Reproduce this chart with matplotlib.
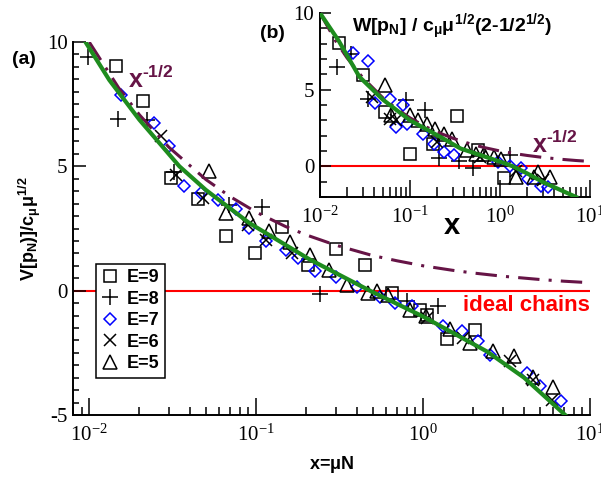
import numpy as np
import matplotlib
matplotlib.use("Agg")
import matplotlib.pyplot as plt
from matplotlib.ticker import LogLocator, MultipleLocator, NullFormatter

plt.rcParams['font.family'] = 'serif'
plt.rcParams['font.serif'] = ['Liberation Serif', 'DejaVu Serif']
plt.rcParams['mathtext.fontset'] = 'custom'
plt.rcParams['mathtext.rm'] = 'Liberation Sans:bold'
plt.rcParams['mathtext.it'] = 'Liberation Sans:bold'
plt.rcParams['mathtext.bf'] = 'Liberation Sans:bold'
plt.rcParams['mathtext.sf'] = 'Liberation Sans:bold'
plt.rcParams['axes.unicode_minus'] = False

# ---- main panel (a): scaled data V[p_N] vs x = mu N ----
e9_x = [0.0145, 0.0211, 0.031, 0.045, 0.066, 0.098, 0.143, 0.204, 0.30, 0.449, 0.65, 0.96, 1.05, 1.39, 2.05]
e9_y = [9.04, 7.64, 4.54, 3.69, 2.21, 1.52, 2.58, 1.04, 1.67, 1.04, -0.1, -0.76, -0.96, -1.95, -1.57]

e8_x = [0.0098, 0.0148, 0.0221, 0.032, 0.069, 0.108, 0.24, 0.80, 1.23]
e8_y = [9.41, 6.9, 6.87, 4.78, 3.45, 3.37, -0.14, -0.43, -0.62]

e7_x = [0.0155, 0.0246, 0.0302, 0.037, 0.047, 0.059, 0.076, 0.091, 0.114, 0.152, 0.178, 0.224,
        0.30, 0.40, 0.55, 0.68, 0.855, 1.32, 1.71, 2.14, 2.52, 4.2, 5.05, 6.66]
e7_y = [7.87, 6.76, 5.8, 4.22, 3.93, 3.65, 3.28, 2.53, 2.0, 1.65, 1.32, 0.78,
        0.55, 0.15, -0.25, -0.48, -0.6, -1.43, -1.63, -2.04, -2.57, -3.3, -3.84, -4.42]

e6_x = [0.027, 0.033, 0.048, 0.089, 0.115, 0.163, 1.06, 1.74, 3.3, 4.57, 5.9]
e6_y = [6.22, 4.66, 3.73, 2.65, 2.05, 1.5, -1.09, -1.9, -2.84, -3.6, -4.38]

e5_x = [0.052, 0.066, 0.091, 0.12, 0.159, 0.21, 0.275, 0.348, 0.47, 0.53, 0.62, 0.83, 1.04,
        1.45, 1.91, 2.64, 3.5, 4.57, 6.04]
e5_y = [4.83, 3.13, 2.93, 2.38, 1.95, 1.45, 0.85, 0.24, -0.09, -0.03, -0.16, -0.76, -1.03,
        -1.55, -2.1, -2.42, -2.61, -3.47, -3.86]

# power law x^-1/2 (dash-dot) and fitted curve (green)
pow_x = [0.01, 0.015, 0.02, 0.03, 0.05, 0.07, 0.1, 0.15, 0.2, 0.3, 0.5, 0.7, 1.0, 1.5, 2.0, 3.0, 5.0, 7.0, 10.0]
pow_y = [10.0, 8.16, 7.07, 5.77, 4.47, 3.78, 3.16, 2.58, 2.24, 1.83, 1.41, 1.2, 1.0, 0.82, 0.71, 0.58, 0.45, 0.38, 0.32]

fit_x = [0.0095, 0.0132, 0.02, 0.0347, 0.05, 0.091, 0.21, 0.48, 1.0, 2.42, 4.03, 7.1]
fit_y = [10.0, 8.47, 6.87, 5.0, 4.05, 2.72, 1.25, 0.0, -1.04, -2.45, -3.5, -5.0]

# ---- inset (b): W[p_N] scaled ----
w9_x = [0.0161, 0.0299, 0.0525, 0.1, 0.178, 0.335, 0.57, 1.12]
w9_y = [8.06, 5.95, 3.55, 0.83, 1.48, 3.27, 1.05, -0.77]

w8_x = [0.0156, 0.022, 0.034, 0.09, 0.148, 0.208, 0.35, 0.5, 1.3]
w8_y = [6.49, 7.3, 4.42, 4.3, 3.7, 0.55, 0.33, -0.1, 0.75]

w7_x = [0.0231, 0.034, 0.0404, 0.0596, 0.0697, 0.084, 0.092, 0.141, 0.183, 0.237, 0.307,
        0.95, 1.3, 1.72, 2.05, 2.88, 3.43]
w7_y = [7.37, 6.88, 4.1, 4.42, 2.57, 4.0, 2.75, 2.14, 1.48, 0.93, 0.72,
        0.3, 0.0, -0.1, -0.8, -1.3, -1.35]

w6_x = [0.038, 0.06, 0.07, 0.2, 0.6, 1.5, 3.0]
w6_y = [4.5, 3.1, 3.0, 1.6, 0.6, -0.3, -0.9]

w5_x = [0.0525, 0.062, 0.1, 0.124, 0.154, 0.191, 0.237, 0.294, 0.434, 0.537, 0.667, 0.863,
        1.03, 1.51, 2.41, 2.65, 3.58]
w5_y = [5.29, 3.33, 3.33, 3.0, 2.79, 2.46, 2.14, 1.81, 1.05, 0.83, 0.83, 0.61,
        0.5, -0.7, -0.7, -0.4, -0.7]

wfit_x = [0.01, 0.0161, 0.0274, 0.05, 0.1, 0.217, 0.365, 1.03, 1.39, 2.0, 3.0, 7.0]
wfit_y = [10.0, 8.2, 5.84, 4.35, 3.0, 1.92, 1.16, 0.28, 0.0, -0.46, -1.03, -2.0]

labels = ['E=9', 'E=8', 'E=7', 'E=6', 'E=5']
purple = '#661446'
green = '#1e8c1e'
mstyles = [
    dict(marker='s', ms=9, mfc='none', mec='black', mew=1.1),
    dict(marker='+', ms=12, mec='black', mew=1.1),
    dict(marker='D', ms=6, mfc='none', mec='blue', mew=1.1),
    dict(marker='x', ms=8, mec='black', mew=1.1),
    dict(marker='^', ms=10, mfc='none', mec='black', mew=1.1),
]
bold_sans = dict(family='Liberation Sans', weight='bold')
pow_label = 'x$^{\u20101/2}$'

fig = plt.figure(figsize=(6.01, 4.8), dpi=100)
ax = fig.add_axes([0.1215, 0.1354, 0.8602, 0.7771])
ax_in = fig.add_axes([0.5324, 0.5896, 0.4493, 0.3833])
ax_in.set_facecolor('none')


def style_axes(a, xlen, ylen):
    a.set_xscale('log')
    a.xaxis.set_major_locator(LogLocator(base=10, numticks=10))
    a.xaxis.set_minor_locator(LogLocator(base=10, subs=np.arange(2, 10), numticks=20))
    a.xaxis.set_minor_formatter(NullFormatter())
    for s in ['top', 'right']:
        a.spines[s].set_visible(False)
    for s in ['left', 'bottom']:
        a.spines[s].set_linewidth(1.4)
    a.tick_params(which='both', direction='in', top=False, right=False, width=1.1, labelsize=15)
    a.tick_params(axis='x', which='major', length=xlen[0], pad=7)
    a.tick_params(axis='x', which='minor', length=xlen[1])
    a.tick_params(axis='y', which='major', length=ylen[0], pad=4)
    a.tick_params(axis='y', which='minor', length=ylen[1])
    for t in a.get_xticklabels() + a.get_yticklabels():
        t.set_fontfamily('serif')


# main panel
ax.axhline(0, color='red', lw=1.5, zorder=1)
for xs, ys, st, lab in zip([e9_x, e8_x, e7_x, e6_x, e5_x], [e9_y, e8_y, e7_y, e6_y, e5_y], mstyles, labels):
    ax.plot(xs, ys, ls='none', label=lab, zorder=2, **st)
ax.plot(pow_x, pow_y, color=purple, lw=2.2, dashes=(7, 3, 1, 3), zorder=3)
ax.plot(fit_x, fit_y, color=green, lw=3, zorder=4)

style_axes(ax, (12, 6), (9, 4.5))
ax.set_xlim(0.008, 10)
ax.set_ylim(-5, 10)
ax.yaxis.set_major_locator(MultipleLocator(5))
ax.yaxis.set_minor_locator(MultipleLocator(0.5))

ax.set_xlabel(r'x=$\mu$N', fontsize=13, **bold_sans)
ax.xaxis.set_label_coords(0.5, -0.105)
ax.set_ylabel(r'V[p$_N$)]/c$_\mu\mu^{1/2}$', fontsize=13, **bold_sans)
ax.yaxis.set_label_coords(-0.058, 0.5)

ax.text(0.01714, 8.15, pow_label, color=purple, fontsize=18, ha='left', va='baseline', **bold_sans)
ax.text(1.0, 0.279, 'ideal chains', color='red', fontsize=16, ha='right', va='baseline',
        transform=ax.transAxes, **bold_sans)

leg = ax.legend(loc='lower left', bbox_to_anchor=(0.044, 0.1),
                prop=dict(family='Liberation Sans', weight='bold', size=13),
                frameon=True, fancybox=False, framealpha=1, edgecolor='black',
                handlelength=1.0, handletextpad=0.4, labelspacing=0.25, borderpad=0.3,
                borderaxespad=0)
leg.get_frame().set_linewidth(1.1)

# inset
ax_in.axhline(0, color='red', lw=1.5, zorder=1)
for xs, ys, st in zip([w9_x, w8_x, w7_x, w6_x, w5_x], [w9_y, w8_y, w7_y, w6_y, w5_y], mstyles):
    ax_in.plot(xs, ys, ls='none', zorder=2, **st)
ax_in.plot(pow_x, pow_y, color=purple, lw=2.2, dashes=(7, 3, 1, 3), zorder=3)
ax_in.plot(wfit_x, wfit_y, color=green, lw=3, zorder=4)

style_axes(ax_in, (12, 7), (8, 5))
ax_in.set_xlim(0.01, 10)
ax_in.set_ylim(-2, 10)
ax_in.yaxis.set_major_locator(MultipleLocator(5))
ax_in.yaxis.set_minor_locator(MultipleLocator(1))

ax_in.set_xlabel('x', fontsize=21, **bold_sans)
ax_in.xaxis.set_label_coords(0.49, -0.08)
ax_in.text(0.49, 0.897, r'W[p$_N$] / c$_\mu\mu^{1/2}$(2-1/2$^{1/2}$)', fontsize=14,
           ha='center', va='baseline', transform=ax_in.transAxes, **bold_sans)
ax_in.text(2.29, 0.85, pow_label, color=purple, fontsize=18, ha='left', va='baseline', **bold_sans)

fig.text(0.039, 0.877, '(a)', fontsize=14, ha='center', va='center', **bold_sans)
fig.text(0.453, 0.931, '(b)', fontsize=14, ha='center', va='center', **bold_sans)

fig.savefig('out.png', dpi=100)
